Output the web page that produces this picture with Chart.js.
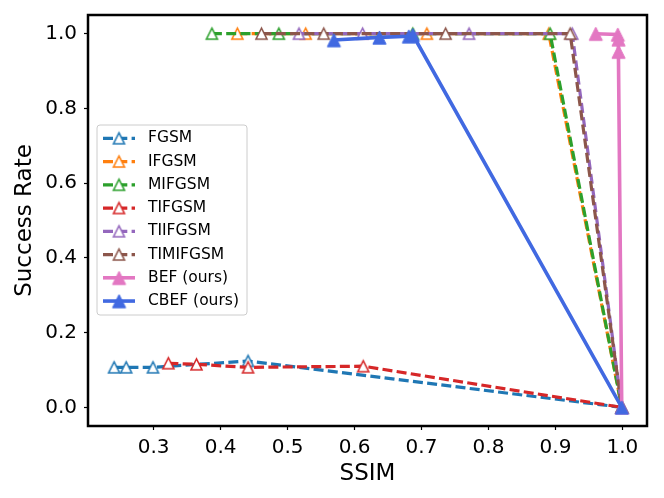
<!DOCTYPE html>
<html>
<head>
<meta charset="utf-8">
<script src="https://cdn.jsdelivr.net/npm/chart.js@4.4.0/dist/chart.umd.min.js"></script>
<style>
  body { margin: 0; background: #fff; }
  canvas { display: block; }
</style>
</head>
<body>
<canvas id="grafik" width="664" height="498"></canvas>
<script>
// data (SSIM vs success rate)
const ssimFGSM = [0.241, 0.259, 0.299, 0.441, 0.999];
const rateFGSM = [0.107, 0.107, 0.107, 0.124, 0.0];

const ssimIFGSM = [0.425, 0.527, 0.708, 0.890, 0.999];
const rateIFGSM = [1.0, 1.0, 1.0, 1.0, 0.0];

const ssimMIFGSM = [0.387, 0.487, 0.687, 0.892, 0.999];
const rateMIFGSM = [1.0, 1.0, 1.0, 1.0, 0.0];

const ssimTIFGSM = [0.322, 0.364, 0.441, 0.613, 0.999];
const rateTIFGSM = [0.118, 0.115, 0.107, 0.110, 0.0];

const ssimTIIFGSM = [0.517, 0.612, 0.771, 0.925, 0.999];
const rateTIIFGSM = [1.0, 1.0, 1.0, 1.0, 0.0];

const ssimTIMIFGSM = [0.461, 0.554, 0.736, 0.922, 0.999];
const rateTIMIFGSM = [1.0, 1.0, 1.0, 1.0, 0.0];

const ssimBEF = [0.960, 0.993, 0.994, 0.994, 0.999];
const rateBEF = [1.0, 0.998, 0.985, 0.952, 0.0];

const ssimCBEF = [0.569, 0.637, 0.681, 0.687, 0.999];
const rateCBEF = [0.983, 0.990, 0.993, 0.997, 0.0];

const xTicks = [0.3, 0.4, 0.5, 0.6, 0.7, 0.8, 0.9, 1.0];
const yTicks = [0.0, 0.2, 0.4, 0.6, 0.8, 1.0];

// matplotlib-like '^' marker
function buatSegitiga(warna, isi, half, lw) {
  const pad = Math.ceil(lw) + 1;
  const s = 2 * (half + pad);
  const c = document.createElement('canvas');
  c.width = s; c.height = s;
  const g = c.getContext('2d');
  const m = s / 2;
  g.beginPath();
  g.moveTo(m, m - half);
  g.lineTo(m - half, m + half);
  g.lineTo(m + half, m + half);
  g.closePath();
  g.fillStyle = isi ? warna : '#ffffff';
  g.fill();
  g.lineWidth = lw;
  g.strokeStyle = warna;
  g.lineJoin = 'miter';
  g.stroke();
  return c;
}

function seri(label, xs, ys, warna, putus, i) {
  return {
    label: label,
    data: xs.map((x, k) => ({ x: x, y: ys[k] })),
    showLine: true,
    borderColor: warna,
    backgroundColor: warna,
    borderWidth: putus ? 3.2 : 3.6,
    borderDash: putus ? [10, 4.3] : [],
    pointStyle: putus ? buatSegitiga(warna, false, 5.5, 1.6) : buatSegitiga(warna, true, 6.6, 1),
    pointRadius: 7,
    tension: 0,
    order: 7 - i
  };
}

const frame = {
  id: 'frame',
  afterDatasetsDraw(chart) {
    const a = chart.chartArea, ctx = chart.ctx;
    ctx.save();
    ctx.strokeStyle = '#000';
    ctx.lineWidth = 2.5;
    ctx.strokeRect(a.left, a.top, a.right - a.left, a.bottom - a.top);
    ctx.restore();
  }
};

const legendDalam = {
  id: 'legendDalam',
  afterDraw(chart) {
    const ctx = chart.ctx;
    ctx.save();
    ctx.beginPath();
    ctx.roundRect(97, 125, 150, 190, 3);
    ctx.fillStyle = 'rgba(255,255,255,0.8)';
    ctx.fill();
    ctx.strokeStyle = '#cccccc';
    ctx.lineWidth = 1;
    ctx.stroke();
    chart.data.datasets.forEach((ds, i) => {
      const y = 138.3 + i * 23.25;
      ctx.beginPath();
      ctx.setLineDash(ds.borderDash);
      ctx.strokeStyle = ds.borderColor;
      ctx.lineWidth = ds.borderWidth;
      ctx.moveTo(103, y);
      ctx.lineTo(135, y);
      ctx.stroke();
      ctx.setLineDash([]);
      const img = ds.pointStyle;
      ctx.drawImage(img, 119 - img.width / 2, y - img.height / 2);
      ctx.fillStyle = '#000';
      ctx.font = '15.5px "DejaVu Sans"';
      ctx.textBaseline = 'middle';
      ctx.textAlign = 'left';
      ctx.fillText(ds.label, 148, y);
    });
    ctx.restore();
  }
};

Chart.defaults.color = '#000';
Chart.defaults.font.family = '"DejaVu Sans", sans-serif';

new Chart(document.getElementById('grafik'), {
  type: 'scatter',
  data: {
    datasets: [
      seri('FGSM', ssimFGSM, rateFGSM, '#1f77b4', true, 0),
      seri('IFGSM', ssimIFGSM, rateIFGSM, '#ff7f0e', true, 1),
      seri('MIFGSM', ssimMIFGSM, rateMIFGSM, '#2ca02c', true, 2),
      seri('TIFGSM', ssimTIFGSM, rateTIFGSM, '#d62728', true, 3),
      seri('TIIFGSM', ssimTIIFGSM, rateTIIFGSM, '#9467bd', true, 4),
      seri('TIMIFGSM', ssimTIMIFGSM, rateTIMIFGSM, '#8c564b', true, 5),
      seri('BEF (ours)', ssimBEF, rateBEF, '#e377c2', false, 6),
      seri('CBEF (ours)', ssimCBEF, rateCBEF, '#4169e1', false, 7)
    ]
  },
  options: {
    responsive: false,
    animation: false,
    layout: { padding: { top: 15, right: 17, left: 0, bottom: 0 } },
    plugins: { legend: { display: false }, tooltip: { enabled: false } },
    scales: {
      x: {
        type: 'linear',
        min: 0.202,
        max: 1.0367,
        afterBuildTicks: s => { s.ticks = xTicks.map(v => ({ value: v })); },
        afterFit: s => { s.height = 72; s.paddingLeft = 0; s.paddingRight = 0; },
        ticks: { font: { size: 20 }, padding: 6, callback: v => v.toFixed(1) },
        grid: { drawOnChartArea: false, tickLength: 4, tickColor: '#000', tickWidth: 1.2 },
        border: { display: false },
        title: { display: true, text: 'SSIM', font: { size: 23 }, padding: { top: 0, bottom: 10 } }
      },
      y: {
        type: 'linear',
        min: -0.05,
        max: 1.05,
        afterBuildTicks: s => { s.ticks = yTicks.map(v => ({ value: v })); },
        afterFit: s => { s.width = 88; s.paddingTop = 0; s.paddingBottom = 0; },
        ticks: { font: { size: 20 }, padding: 7, callback: v => v.toFixed(1) },
        grid: { drawOnChartArea: false, tickLength: 4, tickColor: '#000', tickWidth: 1.2 },
        border: { display: false },
        title: { display: true, text: 'Success Rate', font: { size: 23 }, padding: { top: 11, bottom: 0 } }
      }
    }
  },
  plugins: [frame, legendDalam]
});
</script>
</body>
</html>
